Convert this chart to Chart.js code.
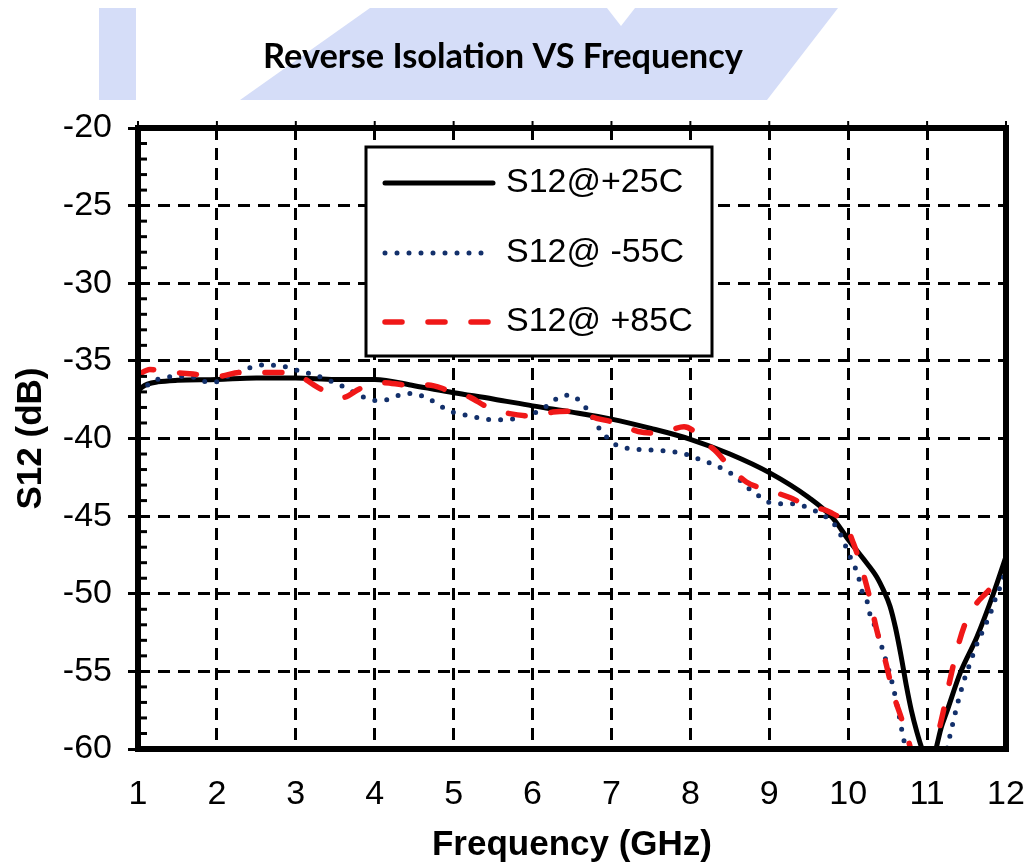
<!DOCTYPE html>
<html>
<head>
<meta charset="utf-8">
<title>Reverse Isolation VS Frequency</title>
<script src="https://cdn.jsdelivr.net/npm/chart.js@4.4.1/dist/chart.umd.min.js"></script>
<style>
  html, body { margin: 0; padding: 0; background: #ffffff; }
  #wrap { position: relative; width: 1029px; height: 867px; }
  canvas { display: block; }
</style>
</head>
<body>
<div id="wrap"><canvas id="chart" width="1029" height="867"></canvas></div>
<script>
// ---- measured S12 data (GHz, dB) ----
const freq25 = [1.0, 1.05, 1.12, 1.25, 1.5, 2.0, 2.5, 3.0, 3.5, 4.0, 4.5, 5.0, 5.5, 6.0, 6.5, 7.0, 7.5, 8.0, 8.5, 9.0, 9.5, 9.8, 10.0, 10.2, 10.36, 10.45, 10.53, 10.6, 10.67, 10.74, 10.8, 10.87, 10.95, 11.02, 11.1, 11.18, 11.25, 11.42, 11.63, 11.84, 12.0];
const s12At25 = [-36.95, -36.7, -36.5, -36.35, -36.25, -36.2, -36.1, -36.1, -36.2, -36.2, -36.6, -37.05, -37.45, -37.9, -38.3, -38.75, -39.35, -40.05, -41.0, -42.2, -43.8, -45.1, -46.5, -47.8, -48.9, -49.8, -50.8, -52.2, -54.0, -56.0, -57.5, -58.9, -60.2, -61.0, -60.2, -58.6, -57.6, -55.1, -52.8, -50.0, -47.6];

const freqM55 = [1.0, 1.05, 1.17, 1.32, 1.5, 1.66, 1.82, 1.98, 2.14, 2.29, 2.44, 2.61, 2.76, 2.93, 3.07, 3.24, 3.39, 3.54, 3.69, 3.84, 4.0, 4.15, 4.32, 4.49, 4.64, 4.79, 4.93, 5.08, 5.25, 5.4, 5.57, 5.74, 5.88, 6.05, 6.2, 6.33, 6.48, 6.62, 6.73, 6.81, 6.92, 7.02, 7.17, 7.34, 7.51, 7.68, 7.85, 8.0, 8.14, 8.31, 8.46, 8.59, 8.71, 8.84, 8.99, 9.14, 9.28, 9.43, 9.58, 9.73, 9.85, 9.94, 10.0, 10.07, 10.13, 10.17, 10.24, 10.28, 10.34, 10.4, 10.49, 10.57, 10.64, 10.7, 10.76, 10.9, 11.1, 11.22, 11.31, 11.38, 11.48, 11.55, 11.61, 11.67, 11.74, 11.8, 11.86, 11.93, 12.0];
const s12AtM55 = [-37.0, -36.9, -36.35, -36.1, -36.0, -36.0, -36.3, -36.35, -36.0, -35.7, -35.4, -35.25, -35.3, -35.45, -35.7, -35.9, -36.2, -36.5, -36.9, -37.3, -37.55, -37.5, -37.2, -37.1, -37.35, -37.75, -38.2, -38.4, -38.6, -38.75, -38.8, -38.75, -38.55, -38.3, -37.85, -37.35, -37.2, -37.7, -38.4, -39.1, -39.8, -40.3, -40.6, -40.7, -40.75, -40.8, -40.9, -41.1, -41.4, -41.7, -42.1, -42.5, -43.1, -43.6, -44.1, -44.2, -44.2, -44.35, -44.65, -45.1, -45.7, -46.6, -47.35, -48.1, -48.9, -49.75, -50.5, -51.4, -52.1, -53.0, -54.5, -56.0, -57.7, -59.3, -60.6, -62.5, -62.5, -60.6, -58.7, -57.2, -55.4, -54.4, -53.5, -52.8, -52.0, -51.3, -50.4, -49.5, -48.4];

const freq85 = [1.0, 1.15, 1.3, 1.47, 1.7, 2.02, 2.29, 2.57, 2.82, 2.95, 3.09, 3.31, 3.6, 3.81, 4.11, 4.41, 4.68, 4.93, 5.21, 5.42, 5.71, 5.99, 6.26, 6.5, 6.81, 7.06, 7.34, 7.57, 7.75, 7.92, 8.05, 8.15, 8.33, 8.46, 8.71, 8.97, 9.26, 9.47, 9.77, 9.96, 10.07, 10.15, 10.26, 10.36, 10.47, 10.57, 10.68, 10.76, 10.85, 11.0, 11.12, 11.2, 11.29, 11.39, 11.5, 11.63, 11.74, 11.88, 12.0];
const s12At85 = [-35.9, -35.55, -35.65, -35.75, -35.85, -36.0, -35.75, -35.75, -35.75, -35.8, -36.1, -36.8, -37.35, -36.8, -36.4, -36.55, -36.55, -36.9, -37.35, -37.95, -38.4, -38.55, -38.3, -38.25, -38.7, -39.0, -39.55, -39.65, -39.45, -39.25, -39.55, -40.1, -40.85, -41.6, -42.8, -43.3, -43.8, -44.3, -44.75, -45.5, -46.8, -48.0, -50.0, -52.3, -54.3, -56.4, -58.1, -59.4, -61.0, -61.5, -59.4, -57.7, -55.55, -53.4, -51.7, -50.6, -50.0, -49.3, -48.9];

const seriesLabels = ['S12@+25C', 'S12@ -55C', 'S12@ +85C'];
const chartTitle = 'Reverse Isolation VS Frequency';
const xAxisTitle = 'Frequency (GHz)';
const yAxisTitle = 'S12 (dB)';
const freqRange = [1, 12];
const s12Range = [-60, -20];

const toPoints = (xs, ys) => xs.map((x, i) => ({ x: x, y: ys[i] }));

const ARIAL = '"Liberation Sans", Arial, Helvetica, sans-serif';

// page background, faint logo shapes and the heading
const backdrop = {
  id: 'backdrop',
  beforeDraw(chart) {
    const ctx = chart.ctx;
    ctx.save();
    ctx.fillStyle = '#ffffff';
    ctx.fillRect(0, 0, chart.width, chart.height);
    ctx.fillStyle = '#d5ddf8';
    ctx.fillRect(99, 8, 37, 92);
    ctx.beginPath();
    ctx.moveTo(370, 8);
    ctx.lineTo(607, 8);
    ctx.lineTo(621, 26);
    ctx.lineTo(635, 8);
    ctx.lineTo(838, 8);
    ctx.lineTo(767, 100);
    ctx.lineTo(240, 100);
    ctx.closePath();
    ctx.fill();

    ctx.fillStyle = '#000000';
    ctx.font = 'bold 100px Lato, "Open Sans", sans-serif';
    const w = ctx.measureText(chartTitle).width;
    const size = 100 * 480 / w;
    ctx.font = 'bold ' + size.toFixed(2) + 'px Lato, "Open Sans", sans-serif';
    ctx.textAlign = 'center';
    ctx.textBaseline = 'middle';
    ctx.fillText(chartTitle, 503, 57);
    ctx.restore();
  }
};

// heavy plot frame, inner minor ticks on the dB axis, small ticks above the frame
const frame = {
  id: 'frame',
  afterDatasetsDraw(chart) {
    const { ctx, chartArea: a, scales } = chart;
    const x = scales.x, y = scales.y;
    ctx.save();
    ctx.strokeStyle = '#000000';
    ctx.setLineDash([]);
    ctx.lineWidth = 3;
    for (let v = s12Range[0] + 1; v < s12Range[1]; v++) {
      if (v % 5 === 0) continue;
      const py = y.getPixelForValue(v);
      ctx.beginPath();
      ctx.moveTo(a.left, py);
      ctx.lineTo(a.left + 9, py);
      ctx.stroke();
    }
    ctx.lineWidth = 2;
    for (let f = freqRange[0]; f <= freqRange[1]; f++) {
      const px = x.getPixelForValue(f);
      ctx.beginPath();
      ctx.moveTo(px, a.top);
      ctx.lineTo(px, a.top - 7);
      ctx.stroke();
    }
    ctx.lineWidth = 6;
    ctx.strokeRect(a.left, a.top, a.right - a.left, a.bottom - a.top);
    ctx.restore();
  }
};

// boxed legend inside the plot
const boxLegend = {
  id: 'boxLegend',
  afterDraw(chart) {
    const ctx = chart.ctx;
    ctx.save();
    ctx.fillStyle = '#ffffff';
    ctx.strokeStyle = '#000000';
    ctx.lineWidth = 3;
    ctx.setLineDash([]);
    ctx.fillRect(366, 147, 346, 209);
    ctx.strokeRect(366, 147, 346, 209);
    const rows = [183, 253, 322];
    chart.data.datasets.forEach((ds, i) => {
      ctx.strokeStyle = ds.borderColor;
      ctx.lineWidth = ds.borderWidth;
      ctx.lineCap = ds.borderCapStyle || 'butt';
      ctx.setLineDash(ds.borderDash || []);
      ctx.beginPath();
      ctx.moveTo(385, rows[i]);
      ctx.lineTo(493, rows[i]);
      ctx.stroke();
      ctx.setLineDash([]);
      ctx.fillStyle = '#000000';
      ctx.font = '34px ' + ARIAL;
      ctx.textAlign = 'left';
      ctx.textBaseline = 'middle';
      ctx.fillText(ds.label, 506, rows[i]);
    });
    ctx.restore();
  }
};

new Chart(document.getElementById('chart'), {
  type: 'line',
  data: {
    datasets: [
      {
        label: seriesLabels[0],
        data: toPoints(freq25, s12At25),
        borderColor: '#000000',
        borderWidth: 5,
        borderCapStyle: 'round',
        borderJoinStyle: 'round',
        cubicInterpolationMode: 'monotone',
        pointRadius: 0,
        fill: false,
        order: 3
      },
      {
        label: seriesLabels[1],
        data: toPoints(freqM55, s12AtM55),
        borderColor: '#13306b',
        borderWidth: 5,
        borderDash: [0, 12],
        borderCapStyle: 'round',
        borderJoinStyle: 'round',
        cubicInterpolationMode: 'monotone',
        pointRadius: 0,
        fill: false,
        order: 2
      },
      {
        label: seriesLabels[2],
        data: toPoints(freq85, s12At85),
        borderColor: '#f01818',
        borderWidth: 5.5,
        borderDash: [17, 26],
        borderCapStyle: 'round',
        borderJoinStyle: 'round',
        cubicInterpolationMode: 'monotone',
        pointRadius: 0,
        fill: false,
        order: 1
      }
    ]
  },
  options: {
    responsive: false,
    animation: false,
    events: [],
    layout: { padding: { top: 128, right: 23, bottom: 0, left: 0 } },
    plugins: {
      legend: { display: false },
      tooltip: { enabled: false },
      title: { display: false }
    },
    scales: {
      x: {
        type: 'linear',
        min: freqRange[0],
        max: freqRange[1],
        ticks: {
          stepSize: 1,
          autoSkip: false,
          maxRotation: 0,
          color: '#000000',
          padding: 25,
          font: { family: ARIAL, size: 34 }
        },
        grid: { color: '#000000', lineWidth: 3, drawTicks: false },
        border: { display: false, dash: [12, 8] },
        title: {
          display: true,
          text: xAxisTitle,
          color: '#000000',
          font: { family: ARIAL, size: 35, weight: 'bold' },
          padding: { top: 0, bottom: 1 }
        },
        afterFit(scale) {
          scale.height = 118;
          scale.paddingLeft = 0;
          scale.paddingRight = 0;
        }
      },
      y: {
        type: 'linear',
        min: s12Range[0],
        max: s12Range[1],
        ticks: {
          stepSize: 5,
          color: '#000000',
          padding: 16,
          font: { family: ARIAL, size: 34 }
        },
        grid: {
          color: '#000000',
          lineWidth: 3,
          tickLength: 10,
          tickWidth: 3,
          tickColor: '#000000',
          tickBorderDash: []
        },
        border: { display: false, dash: [12, 8] },
        title: {
          display: true,
          text: yAxisTitle,
          color: '#000000',
          font: { family: ARIAL, size: 35, weight: 'bold' },
          padding: { top: 10, bottom: 0 }
        },
        afterFit(scale) {
          scale.width = 138;
          scale.paddingTop = 0;
          scale.paddingBottom = 0;
        }
      }
    }
  },
  plugins: [backdrop, frame, boxLegend]
});
</script>
</body>
</html>
